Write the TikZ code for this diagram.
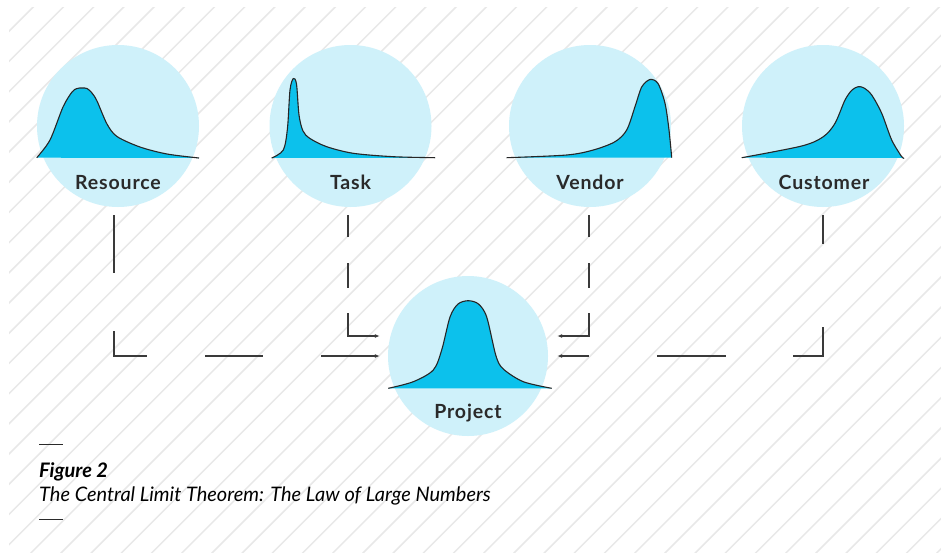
\documentclass[tikz,border=0pt]{standalone}
\usepackage{fontspec}
\setmainfont{Lato}
\newfontfamily\labfont[LetterSpace=4.4]{Lato}
\usetikzlibrary{arrows.meta}
\definecolor{hatchgray}{HTML}{E8E8E8}
\definecolor{bubble}{HTML}{CFF1FA}
\definecolor{distfill}{HTML}{0CC1EC}
\definecolor{ink}{HTML}{2A2A2A}
\definecolor{conncol}{HTML}{3A3A3A}
\newcommand\distcurve[1]{%
  \fill[distfill] plot[smooth] coordinates {#1} -- cycle;
  \draw[distline] plot[smooth] coordinates {#1};}
\begin{document}
\begin{tikzpicture}[x=1pt,y=-1pt,
  hatch/.style={draw=hatchgray,line width=1.5pt},
  bubblenode/.style={circle,fill=bubble,minimum size=162pt,inner sep=0pt},
  distline/.style={draw=black!85,line width=1.1pt,line join=round},
  lab/.style={text=ink,font=\labfont\fontsize{19.5}{24}\selectfont\bfseries,inner sep=0pt,anchor=base},
  conn/.style={draw=conncol,line width=1.1pt,-{Latex[length=5pt,width=4pt]}},
  rulemark/.style={draw=ink,line width=0.9pt}]
\useasboundingbox (0,0) rectangle (941,552);
\fill[white] (0,0) rectangle (941,552);
\begin{scope}
  \clip (9,7) rectangle (941,552);
  \foreach \k in {0,...,52}{\draw[hatch] ({10+30.2*\k},0) -- ({10+30.2*\k-570},570);}
\end{scope}

% bubbles
\node[bubblenode] (res) at (118,126) {};
\node[bubblenode] (task) at (350.5,126) {};
\node[bubblenode] (vend) at (590,126) {};
\node[bubblenode] (cust) at (823,126) {};
\node[bubblenode,minimum size=160pt] (proj) at (468,356) {};

% distributions
\distcurve{(36.7,157.7) (50,140) (63,107) (72,92) (77,88.5) (82,88) (87,88.5) (92,93) (97,101) (107,124) (117,136.5) (140,147) (167,154) (199,158)}
\distcurve{(271.7,158) (283.3,150) (287.5,128) (290,90) (293.3,78.5) (296.5,84) (299,115) (303,131) (310,138.5) (326.7,146.7) (353.3,153.3) (393.3,156.7) (435,157.7)}
\distcurve{(506.7,157.7) (566.7,155) (593.3,150) (615,141.7) (626.7,130) (635,106.7) (641.7,87) (650,79.5) (658,83.5) (665,103.3) (669,130) (671.7,157.7)}
\distcurve{(741.7,157.7) (801.7,146) (823.3,136.7) (835,123.3) (845,100) (852,90) (858.3,86.7) (864,88) (871.7,95) (881.7,113.3) (891.7,140) (901.7,156.7) (904,158)}
\distcurve{(388.3,388.3) (413.3,381.7) (433.3,370) (441.7,350) (450,317) (458,304) (468.3,300.7) (478.5,304) (486.7,317) (496,356) (503.3,369) (523.3,381.7) (551.7,388.3)}

% labels
\node[lab] (reslab) at (118,189) {Resource};
\node[lab] (tasklab) at (350.5,189) {Task};
\node[lab] (vendlab) at (590,189) {Vendor};
\node[lab] (custlab) at (824,189) {Customer};
\node[lab] (projlab) at (468,418.5) {Project};

% connectors
\draw[conn,dash pattern=on 58pt off 58pt]
  ([xshift=-4pt,yshift=-8pt]res.south) |- ([xshift=-8pt]proj.west);
\draw[conn,dash pattern=on 22pt off 26pt on 25pt off 25pt on 200pt]
  ([xshift=-2.5pt,yshift=-8pt]task.south) |- ([xshift=-8pt,yshift=20pt]proj.west);
\draw[conn,dash pattern=on 22pt off 26pt on 25pt off 25pt on 200pt]
  ([xshift=-1pt,yshift=-8pt]vend.south) |- ([xshift=9pt,yshift=20pt]proj.east);
\draw[conn,dash pattern=on 29pt off 83pt on 59pt off 67pt on 69pt off 68pt on 100pt]
  ([yshift=-8pt]cust.south) |- ([xshift=9pt]proj.east);

% caption
\draw[rulemark] (39,444) -- (63,444);
\node[anchor=base west,inner sep=0pt,text=black,font=\fontsize{20}{24}\selectfont\bfseries\itshape] (fig) at (39,477) {Figure 2};
\node[anchor=base west,inner sep=0pt,text=black,font=\fontsize{20}{24}\selectfont\itshape] (cap) at (39,501) {The Central Limit Theorem: The Law of Large Numbers};
\draw[rulemark] (39,519) -- (63,519);
\end{tikzpicture}
\end{document}
